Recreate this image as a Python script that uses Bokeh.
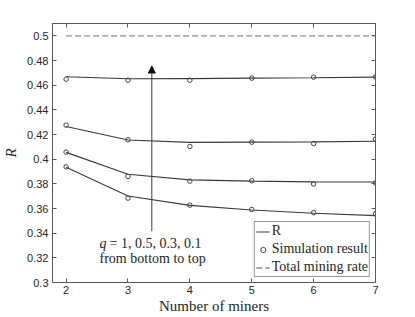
from bokeh.plotting import figure
from bokeh.models import LinearAxis, FixedTicker, Range1d, Arrow, NormalHead, Legend, LegendItem, CustomJSTickFormatter
from bokeh.core.properties import value
from bokeh.embed import file_html
from bokeh.resources import INLINE

# ---- data ----
miners = [2, 3, 4, 5, 6, 7]

# analytical R curves, q = 0.1, 0.3, 0.5, 1
R_q01 = [0.4668, 0.4652, 0.4653, 0.4657, 0.4660, 0.4665]
R_q03 = [0.4265, 0.4155, 0.4136, 0.4138, 0.4140, 0.4145]
R_q05 = [0.4055, 0.3878, 0.3832, 0.3822, 0.3816, 0.3815]
R_q1 = [0.3935, 0.3702, 0.3625, 0.3588, 0.3562, 0.3542]

# simulation results
sim_q01 = [0.4649, 0.4640, 0.4640, 0.4657, 0.4665, 0.4667]
sim_q03 = [0.4276, 0.4157, 0.4103, 0.4138, 0.4127, 0.4162]
sim_q05 = [0.4057, 0.3860, 0.3822, 0.3825, 0.3799, 0.3807]
sim_q1 = [0.3938, 0.3684, 0.3627, 0.3592, 0.3566, 0.3558]

total_rate_x = [2, 7]
total_rate_y = [0.5, 0.5]

x_ticks = [2, 3, 4, 5, 6, 7]
y_ticks = [0.3, 0.32, 0.34, 0.36, 0.38, 0.4, 0.42, 0.44, 0.46, 0.48, 0.5]
y_tick_labels = ["0.3", "0.32", "0.34", "0.36", "0.38", "0.4", "0.42", "0.44", "0.46", "0.48", "0.5"]

legend_labels = ["R", "Simulation result", "Total mining rate"]
annot_line1 = ["q", "= 1, 0.5, 0.3, 0.1"]
annot_line2 = "from bottom to top"

# ---- figure ----
SERIF = "Liberation Serif"
SANS = "Liberation Sans"
AX_COL = "#5a5a5a"
LINE_COL = "#3a3a3a"

p = figure(frame_width=323, frame_height=259, output_backend="svg", toolbar_location=None,
           x_range=Range1d(1.78, 7.0), y_range=Range1d(0.3, 0.51),
           min_border_left=51, min_border_right=25, min_border_top=23, min_border_bottom=10)
p.background_fill_color = "white"
p.border_fill_color = "white"
p.outline_line_color = AX_COL
p.grid.visible = False

def style_axis(ax):
    ax.axis_line_color = AX_COL
    ax.major_tick_line_color = AX_COL
    ax.major_tick_in = 4
    ax.major_tick_out = 0
    ax.minor_tick_line_color = None
    ax.major_label_text_font = SANS
    ax.major_label_text_font_size = "11px"
    ax.major_label_text_color = "#262626"

xa = p.xaxis[0]
xa.ticker = FixedTicker(ticks=x_ticks)
style_axis(xa)
xa.major_label_standoff = 3
xa.axis_label = "Number of miners"
xa.axis_label_text_font = SERIF
xa.axis_label_text_font_size = "15px"
xa.axis_label_text_font_style = "normal"
xa.axis_label_text_color = "#262626"
xa.axis_label_standoff = 1

ya = p.yaxis[0]
ya.ticker = FixedTicker(ticks=y_ticks)
ya.major_label_overrides = {t: l for t, l in zip(y_ticks, y_tick_labels)}
style_axis(ya)
ya.major_label_standoff = 4
ya.axis_label = "R"
ya.axis_label_text_font = SERIF
ya.axis_label_text_font_size = "15px"
ya.axis_label_text_font_style = "italic"
ya.axis_label_text_color = "#262626"
ya.axis_label_standoff = 5

blank = CustomJSTickFormatter(code="return '';")
top = LinearAxis(ticker=FixedTicker(ticks=x_ticks), formatter=blank)
style_axis(top)
top.major_label_standoff = 0
p.add_layout(top, "above")
right = LinearAxis(ticker=FixedTicker(ticks=y_ticks), formatter=blank)
style_axis(right)
right.major_label_standoff = 0
p.add_layout(right, "right")

# ---- glyphs ----
dash_r = p.line(total_rate_x, total_rate_y, line_color="#8a8a8a", line_width=1.3, line_dash="6 3")

line_rs = []
for ys in [R_q01, R_q03, R_q05, R_q1]:
    line_rs.append(p.line(miners, ys, line_color=LINE_COL, line_width=1.1))

sim_rs = []
for ys in [sim_q01, sim_q03, sim_q05, sim_q1]:
    sim_rs.append(p.scatter(miners, ys, marker="circle", size=4.5, fill_color=None,
                            line_color="#444444", line_width=1))

# arrow annotation
ARROW_X = 3.385
p.add_layout(Arrow(x_start=ARROW_X, y_start=0.3416, x_end=ARROW_X, y_end=0.4755,
                   line_color=LINE_COL, line_width=1,
                   end=NormalHead(size=7, fill_color="#111111", line_color="#111111")))

TXT_X = 2.54
p.text(x=[TXT_X], y=[0.3316], text=[annot_line1[0]], text_font=value(SERIF), text_font_style="italic",
       text_font_size="14px", text_baseline="middle", text_align="left", text_color="#262626")
p.text(x=[TXT_X], y=[0.3316], text=[annot_line1[1]], text_font=value(SERIF), x_offset=10,
       text_font_size="14px", text_baseline="middle", text_align="left", text_color="#262626")
p.text(x=[TXT_X], y=[0.3195], text=[annot_line2], text_font=value(SERIF),
       text_font_size="14px", text_baseline="middle", text_align="left", text_color="#262626")

legend = Legend(items=[LegendItem(label=legend_labels[0], renderers=[line_rs[0]]),
                       LegendItem(label=legend_labels[1], renderers=[sim_rs[0]]),
                       LegendItem(label=legend_labels[2], renderers=[dash_r])],
                location="bottom_right")
legend.label_text_font = SERIF
legend.label_text_font_size = "14px"
legend.label_text_color = "#262626"
legend.border_line_color = "#333333"
legend.border_line_width = 1
legend.background_fill_alpha = 1
legend.margin = 5
legend.padding = 1
legend.spacing = 2
legend.label_height = 13
legend.glyph_height = 13
legend.glyph_width = 14
legend.label_standoff = 2
p.add_layout(legend)

open("out.html", "w").write(file_html(p, INLINE))
